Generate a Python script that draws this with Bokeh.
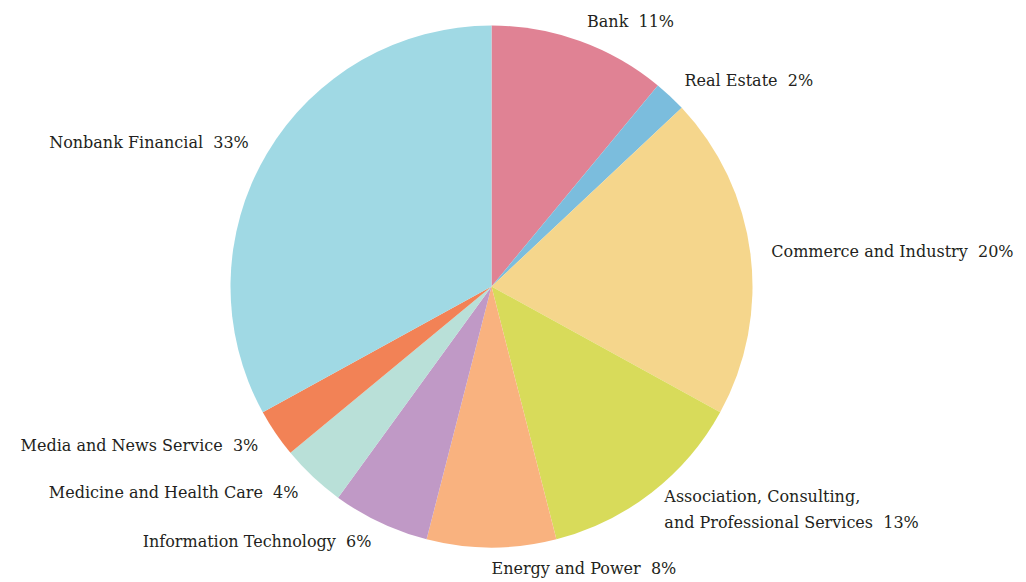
import math
from bokeh.plotting import figure
from bokeh.models import ColumnDataSource, Range1d
from bokeh.core.properties import value
from bokeh.embed import file_html
from bokeh.resources import INLINE

categories = ["Bank", "Real Estate", "Commerce and Industry",
              "Association, Consulting,\nand Professional Services",
              "Energy and Power", "Information Technology",
              "Medicine and Health Care", "Media and News Service",
              "Nonbank Financial"]
shares = [11, 2, 20, 13, 8, 6, 4, 3, 33]
colors = ["#E08294", "#7BBDDD", "#F5D68C", "#D8DB5A", "#F9B27F",
          "#C099C6", "#B9E0D8", "#F28256", "#A0D9E4"]

W, H = 1026, 582
cx, cy = 491, H - 286
R = 261
LR = 282

total = float(sum(shares))
starts, ends, mids = [], [], []
cum = 0.0
for s in shares:
    a0 = math.pi / 2 - 2 * math.pi * cum / total
    cum += s
    a1 = math.pi / 2 - 2 * math.pi * cum / total
    starts.append(a0)
    ends.append(a1)
    mids.append((a0 + a1) / 2)

src = ColumnDataSource(dict(start=starts, end=ends, color=colors))

p = figure(width=W, height=H, x_range=Range1d(0, W), y_range=Range1d(0, H),
           output_backend="svg", toolbar_location=None, min_border=0,
           background_fill_color="white", border_fill_color="white")
p.outline_line_color = None
p.axis.visible = False
p.grid.visible = False

p.wedge(x=cx, y=cy, radius=R, start_angle="start", end_angle="end",
        direction="clock", fill_color="color", line_color=None, source=src)

lx, ly, lt, la = [], [], [], []
for name, s, m in zip(categories, shares, mids):
    x = cx + LR * math.cos(m)
    y = cy + LR * math.sin(m)
    lines = name.split("\n")
    lines[-1] = lines[-1] + "\u00a0\u00a0" + f"{s}%"
    lx.append(x)
    ly.append(y)
    lt.append("\n".join(lines))
    la.append("left" if x >= cx - 1 else "right")

lsrc = ColumnDataSource(dict(x=lx, y=ly, text=lt, align=la))
p.text(x="x", y="y", text="text", text_align="align", text_baseline="middle",
       text_font=value("DejaVu Serif"), text_font_size="16px",
       text_color="#231F20", text_line_height=1.34, source=lsrc)

open("out.html", "w").write(file_html(p, INLINE))
